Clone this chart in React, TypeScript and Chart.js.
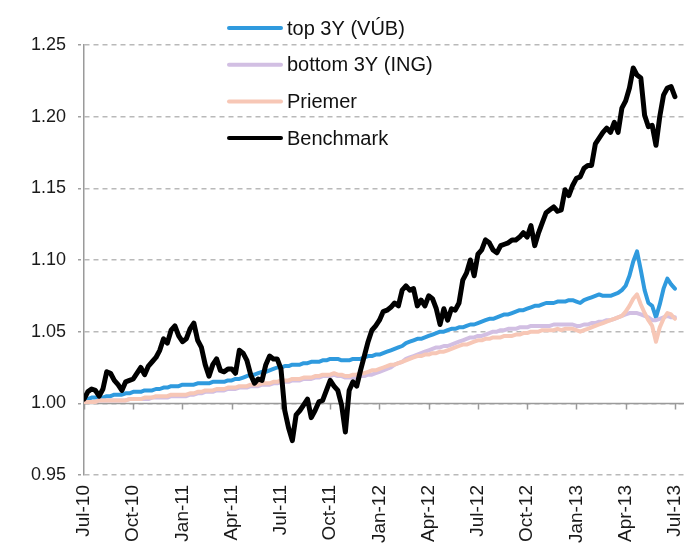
import React, { useEffect, useRef } from "react";
import { Chart, registerables } from "chart.js";

Chart.register(...registerables);

// Weekly observations from Jul-10 to Jul-13 (157 weeks)
const QUARTER_LABELS = [
  "Jul-10", "Oct-10", "Jan-11", "Apr-11", "Jul-11", "Oct-11", "Jan-12",
  "Apr-12", "Jul-12", "Oct-12", "Jan-13", "Apr-13", "Jul-13",
];
const WEEKS_PER_QUARTER = 13;

const Y_TICKS = [0.95, 1.0, 1.05, 1.1, 1.15, 1.2, 1.25];

const SERIES_NAMES = ["top 3Y (VÚB)", "bottom 3Y (ING)", "Priemer", "Benchmark"];
const SERIES_COLORS = ["#2f9ade", "#d2bfe3", "#f7c7b6", "#000000"];

const topVUB = [
  1.003, 1.003, 1.004, 1.004, 1.004, 1.004, 1.005, 1.005, 1.006, 1.006,
  1.006, 1.007, 1.007, 1.008, 1.008, 1.008, 1.009, 1.009, 1.009, 1.010,
  1.010, 1.011, 1.011, 1.012, 1.012, 1.012, 1.013, 1.013, 1.013, 1.013,
  1.014, 1.014, 1.014, 1.014, 1.015, 1.015, 1.015, 1.015, 1.016, 1.016,
  1.017, 1.017, 1.018, 1.019, 1.020, 1.020, 1.021, 1.022, 1.022, 1.023,
  1.024, 1.025, 1.025, 1.026, 1.026, 1.027, 1.027, 1.027, 1.028, 1.028,
  1.029, 1.029, 1.029, 1.030, 1.030, 1.031, 1.031, 1.031, 1.030, 1.030,
  1.030, 1.031, 1.031, 1.031, 1.032, 1.033, 1.033, 1.034, 1.034, 1.035,
  1.036, 1.037, 1.038, 1.039, 1.040, 1.042, 1.043, 1.044, 1.045, 1.045,
  1.046, 1.047, 1.048, 1.049, 1.050, 1.050, 1.051, 1.052, 1.052, 1.053,
  1.053, 1.054, 1.055, 1.055, 1.056, 1.057, 1.058, 1.059, 1.059, 1.060,
  1.061, 1.062, 1.062, 1.063, 1.064, 1.065, 1.065, 1.066, 1.067, 1.068,
  1.068, 1.069, 1.070, 1.070, 1.070, 1.071, 1.071, 1.071, 1.072, 1.072,
  1.071, 1.070, 1.072, 1.073, 1.074, 1.075, 1.076, 1.075, 1.075, 1.075,
  1.076, 1.077, 1.079, 1.082, 1.089, 1.099, 1.106, 1.093, 1.079, 1.070,
  1.068, 1.060, 1.069, 1.080, 1.087, 1.083, 1.080,
];

const bottomING = [
  1.001, 1.001, 1.001, 1.001, 1.002, 1.002, 1.002, 1.002, 1.002, 1.002,
  1.002, 1.002, 1.003, 1.003, 1.003, 1.003, 1.003, 1.003, 1.004, 1.004,
  1.004, 1.004, 1.004, 1.005, 1.005, 1.005, 1.005, 1.005, 1.006, 1.006,
  1.007, 1.007, 1.008, 1.008, 1.008, 1.009, 1.009, 1.009, 1.010, 1.010,
  1.010, 1.011, 1.011, 1.011, 1.012, 1.012, 1.012, 1.013, 1.013, 1.013,
  1.014, 1.014, 1.015, 1.015, 1.015, 1.016, 1.016, 1.016, 1.017, 1.017,
  1.017, 1.018, 1.018, 1.019, 1.019, 1.019, 1.020, 1.019, 1.019, 1.018,
  1.018, 1.018, 1.018, 1.019, 1.019, 1.020, 1.020, 1.021, 1.022, 1.023,
  1.024, 1.025, 1.027, 1.028, 1.029, 1.031, 1.032, 1.033, 1.034, 1.035,
  1.036, 1.037, 1.038, 1.039, 1.039, 1.040, 1.040, 1.041, 1.042, 1.043,
  1.044, 1.045, 1.046, 1.046, 1.047, 1.047, 1.048, 1.049, 1.050, 1.050,
  1.051, 1.051, 1.052, 1.052, 1.052, 1.053, 1.053, 1.053, 1.054, 1.054,
  1.054, 1.054, 1.054, 1.054, 1.055, 1.055, 1.055, 1.055, 1.055, 1.055,
  1.054, 1.054, 1.055, 1.055, 1.056, 1.056, 1.057, 1.057, 1.058, 1.058,
  1.059, 1.060, 1.061, 1.062, 1.063, 1.063, 1.063, 1.062, 1.061, 1.060,
  1.058, 1.058, 1.059, 1.060, 1.061, 1.060, 1.060,
];

const priemer = [
  1.001, 1.001, 1.001, 1.001, 1.002, 1.002, 1.002, 1.002, 1.002, 1.002,
  1.002, 1.002, 1.003, 1.003, 1.003, 1.003, 1.004, 1.004, 1.004, 1.005,
  1.005, 1.005, 1.005, 1.006, 1.006, 1.006, 1.006, 1.006, 1.007, 1.007,
  1.008, 1.008, 1.009, 1.009, 1.009, 1.010, 1.010, 1.010, 1.011, 1.011,
  1.011, 1.012, 1.012, 1.012, 1.013, 1.013, 1.013, 1.014, 1.014, 1.014,
  1.015, 1.015, 1.016, 1.016, 1.016, 1.017, 1.017, 1.017, 1.018, 1.018,
  1.018, 1.019, 1.019, 1.020, 1.020, 1.020, 1.021, 1.020, 1.020, 1.019,
  1.019, 1.020, 1.020, 1.021, 1.021, 1.022, 1.023, 1.023, 1.024, 1.025,
  1.026, 1.027, 1.027, 1.028, 1.029, 1.030, 1.031, 1.032, 1.033, 1.033,
  1.034, 1.034, 1.035, 1.035, 1.036, 1.036, 1.037, 1.038, 1.039, 1.040,
  1.041, 1.041, 1.042, 1.043, 1.044, 1.044, 1.045, 1.045, 1.046, 1.046,
  1.046, 1.047, 1.047, 1.047, 1.048, 1.048, 1.049, 1.049, 1.050, 1.050,
  1.050, 1.051, 1.051, 1.051, 1.051, 1.052, 1.051, 1.052, 1.052, 1.052,
  1.051, 1.050, 1.051, 1.052, 1.053, 1.054, 1.055, 1.056, 1.057, 1.058,
  1.059, 1.060, 1.061, 1.064, 1.068, 1.073, 1.076, 1.069, 1.063, 1.058,
  1.054, 1.043, 1.053, 1.059, 1.063, 1.062, 1.059,
];

const benchmark = [
  1.003, 1.008, 1.010, 1.009, 1.005, 1.010, 1.022, 1.021, 1.016, 1.013,
  1.009, 1.015, 1.016, 1.017, 1.021, 1.025, 1.020, 1.026, 1.029, 1.032,
  1.037, 1.045, 1.042, 1.051, 1.054, 1.047, 1.043, 1.045, 1.052, 1.056,
  1.044, 1.039, 1.027, 1.019, 1.027, 1.031, 1.023, 1.022, 1.024, 1.024,
  1.021, 1.037, 1.035, 1.030, 1.020, 1.014, 1.017, 1.016, 1.027, 1.033,
  1.031, 1.031, 1.024, 0.995, 0.983, 0.974, 0.992, 0.995, 0.999, 1.003,
  0.990, 0.995, 1.001, 1.002, 1.009, 1.016, 1.012, 1.009, 0.999, 0.980,
  1.009, 1.015, 1.012, 1.023, 1.033, 1.043, 1.051, 1.054, 1.058, 1.064,
  1.065, 1.067, 1.070, 1.068, 1.079, 1.082, 1.079, 1.080, 1.068, 1.072,
  1.068, 1.075, 1.073, 1.066, 1.055, 1.066, 1.058, 1.066, 1.065, 1.070,
  1.086, 1.091, 1.100, 1.089, 1.104, 1.107, 1.114, 1.112, 1.107, 1.105,
  1.110, 1.111, 1.112, 1.114, 1.114, 1.116, 1.119, 1.116, 1.124, 1.110,
  1.119, 1.126, 1.133, 1.135, 1.137, 1.134, 1.135, 1.149, 1.145, 1.152,
  1.157, 1.158, 1.164, 1.166, 1.166, 1.181, 1.185, 1.189, 1.192, 1.189,
  1.196, 1.189, 1.206, 1.211, 1.220, 1.234, 1.229, 1.227, 1.201, 1.193,
  1.194, 1.180, 1.200, 1.215, 1.220, 1.221, 1.214,
];

const SERIES = [topVUB, bottomING, priemer, benchmark];
const WEEK_INDEX = benchmark.map((_, i) => i);

const FONT = "'Liberation Sans', Arial, Helvetica, sans-serif";

const axisAtOne = {
  id: "axisAtOne",
  beforeDatasetsDraw(chart: any) {
    const { ctx, chartArea, scales } = chart;
    const y = Math.round(scales.y.getPixelForValue(1.0)) + 0.5;
    ctx.save();
    ctx.strokeStyle = "#9a9a9a";
    ctx.lineWidth = 1.5;
    ctx.setLineDash([]);
    ctx.beginPath();
    ctx.moveTo(chartArea.left, y);
    ctx.lineTo(chartArea.right, y);
    for (let k = 0; k < QUARTER_LABELS.length; k++) {
      const x = Math.round(scales.x.getPixelForValue(k * WEEKS_PER_QUARTER)) + 0.5;
      ctx.moveTo(x, y);
      ctx.lineTo(x, y + 6);
    }
    ctx.stroke();
    ctx.restore();
  },
};

const customLegend = {
  id: "customLegend",
  afterDraw(chart: any) {
    const { ctx } = chart;
    ctx.save();
    ctx.font = `20px ${FONT}`;
    ctx.textBaseline = "middle";
    ctx.textAlign = "left";
    SERIES_NAMES.forEach((name, i) => {
      const cy = 28 + i * 36.7;
      ctx.strokeStyle = SERIES_COLORS[i];
      ctx.lineWidth = 4;
      ctx.lineCap = "round";
      ctx.beginPath();
      ctx.moveTo(229, cy);
      ctx.lineTo(281, cy);
      ctx.stroke();
      ctx.fillStyle = "#111111";
      ctx.fillText(name, 287, cy + 1);
    });
    ctx.restore();
  },
};

export default function App() {
  const canvasRef = useRef<HTMLCanvasElement | null>(null);

  useEffect(() => {
    const canvas = canvasRef.current;
    if (!canvas) return;
    const orders = [3, 2, 1, 0];
    const widths = [4, 4, 4, 5];
    const chart = new Chart(canvas, {
      type: "line",
      data: {
        labels: WEEK_INDEX,
        datasets: SERIES.map((s, i) => ({
          label: SERIES_NAMES[i],
          data: s,
          borderColor: SERIES_COLORS[i],
          backgroundColor: SERIES_COLORS[i],
          borderWidth: widths[i],
          pointRadius: 0,
          tension: 0,
          fill: false,
          order: orders[i],
          borderJoinStyle: "round",
          borderCapStyle: "round",
        })),
      },
      options: {
        responsive: false,
        animation: false,
        devicePixelRatio: 1,
        layout: { padding: { top: 45, right: 0, left: 0, bottom: 0 } },
        plugins: {
          legend: { display: false },
          tooltip: { enabled: false },
        },
        scales: {
          x: {
            type: "linear",
            min: 0,
            max: 158.4,
            afterBuildTicks(scale: any) {
              scale.ticks = QUARTER_LABELS.map((_, k) => ({ value: k * WEEKS_PER_QUARTER }));
            },
            afterFit(scale: any) {
              scale.height = 68;
              scale.paddingLeft = 0;
              scale.paddingRight = 0;
            },
            grid: { display: false, drawTicks: false },
            border: { display: false },
            ticks: {
              autoSkip: false,
              minRotation: 90,
              maxRotation: 90,
              padding: 10,
              color: "#1a1a1a",
              font: { family: FONT, size: 19 },
              callback: (v: any) => QUARTER_LABELS[Math.round(Number(v) / WEEKS_PER_QUARTER)] ?? "",
            },
          },
          y: {
            type: "linear",
            min: 0.95,
            max: 1.25,
            afterBuildTicks(scale: any) {
              scale.ticks = Y_TICKS.map((v) => ({ value: v }));
            },
            afterFit(scale: any) {
              scale.width = 84;
              scale.paddingTop = 0;
              scale.paddingBottom = 0;
            },
            grid: {
              color: "#b9b9b9",
              lineWidth: 1.5,
              tickLength: 6,
              tickColor: "#a0a0a0",
              tickBorderDash: [3, 2],
            },
            // In Chart.js 4, border.dash sets the dash pattern of the grid lines
            border: { display: true, color: "#9a9a9a", width: 1.5, dash: [5, 4] },
            ticks: {
              padding: 12,
              color: "#1a1a1a",
              font: { family: FONT, size: 18 },
              callback: (v: any) => Number(v).toFixed(2),
            },
          },
        },
      },
      plugins: [axisAtOne, customLegend],
    } as any);
    return () => chart.destroy();
  }, []);

  return (
    <div style={{ position: "absolute", left: 0, top: 0, width: 684, height: 543, background: "#fff" }}>
      <canvas ref={canvasRef} width={684} height={543} />
    </div>
  );
}
